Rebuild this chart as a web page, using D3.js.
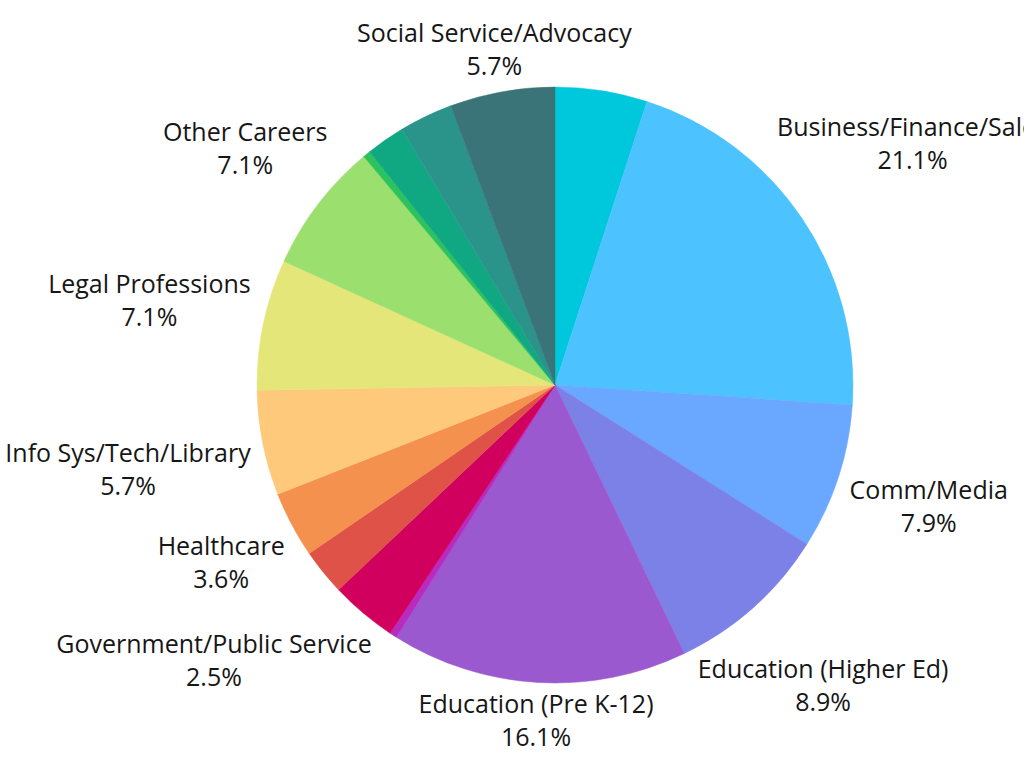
<!DOCTYPE html>
<html>
<head>
<meta charset="utf-8">
<script src="https://cdn.jsdelivr.net/npm/d3@7"></script>
<style>
  html, body { margin: 0; padding: 0; background: #fff; overflow: hidden; }
  svg { display: block; }
  .label text { font-family: "Open Sans", sans-serif; font-size: 25px; fill: #161616; }
</style>
</head>
<body>
<svg id="chart" width="1024" height="768"></svg>
<script>
// slices clockwise from 12 o'clock; null name = slice drawn without a label
const categories = [
  null,
  'Business/Finance/Sales',
  'Comm/Media',
  'Education (Higher Ed)',
  'Education (Pre K-12)',
  null,
  null,
  'Government/Public Service',
  'Healthcare',
  'Info Sys/Tech/Library',
  'Legal Professions',
  'Other Careers',
  null,
  null,
  null,
  'Social Service/Advocacy'
];
const values = [5.0, 21.1, 7.9, 8.9, 16.1, 0.4, 3.6, 2.5, 3.6, 5.7, 7.1, 7.1, 0.4, 2.1, 2.9, 5.7];
const colors = [
  '#00c8dc', '#4cc3ff', '#6aa8ff', '#7b81e6', '#9a59cf', '#b62cc2', '#d1005f', '#df5247',
  '#f5914f', '#fec97a', '#e4e67a', '#9bdf6e', '#2cc35c', '#0fa882', '#2a948a', '#3a7479'
];

const cx = 555;
const cy = 385;
const radius = 298;
const labelGap = 12;
const lineGap = 33;
const capHeight = 25 * 0.72;

const data = categories.map((name, i) => ({ name, value: values[i], color: colors[i] }));

const svg = d3.select('#chart');
const g = svg.append('g').attr('transform', `translate(${cx},${cy})`);

const pie = d3.pie().sort(null).value(d => d.value);
const arc = d3.arc().innerRadius(0).outerRadius(radius);
const arcs = pie(data);

g.selectAll('path.slice')
  .data(arcs)
  .enter()
  .append('path')
  .attr('class', 'slice')
  .attr('d', arc)
  .attr('fill', d => d.data.color)
  .attr('stroke', d => d.data.color)
  .attr('stroke-width', 0.5);

const fmt = d3.format('.1f');

const labels = g.selectAll('g.label')
  .data(arcs.filter(d => d.data.name))
  .enter()
  .append('g')
  .attr('class', 'label');

labels.append('text')
  .attr('text-anchor', 'middle')
  .attr('y', 0)
  .text(d => d.data.name);

labels.append('text')
  .attr('text-anchor', 'middle')
  .attr('y', lineGap)
  .text(d => `${fmt(d.data.value)}%`);

// push each label box out along its slice's middle ray until its nearest
// point clears the pie edge by labelGap
labels.each(function(d) {
  const sel = d3.select(this);
  const w = d3.max(sel.selectAll('text').nodes(), n => n.getComputedTextLength());
  const top = -capHeight;
  const bottom = lineGap;
  const boxMid = (top + bottom) / 2;
  const mid = (d.startAngle + d.endAngle) / 2;
  const ux = Math.sin(mid);
  const uy = -Math.cos(mid);

  const nearest = dist => {
    const x = dist * ux;
    const y = dist * uy;
    const x0 = x - w / 2, x1 = x + w / 2;
    const y0 = y - (bottom - top) / 2, y1 = y + (bottom - top) / 2;
    const dx = Math.max(x0, 0, -x1);
    const dy = Math.max(y0, 0, -y1);
    return Math.hypot(dx, dy);
  };

  let lo = 0, hi = 900;
  for (let k = 0; k < 40; k++) {
    const m = (lo + hi) / 2;
    if (nearest(m) < radius + labelGap) lo = m; else hi = m;
  }
  const px = hi * ux;
  const py = hi * uy - boxMid;
  sel.attr('transform', `translate(${px},${py})`);
});
</script>
</body>
</html>
